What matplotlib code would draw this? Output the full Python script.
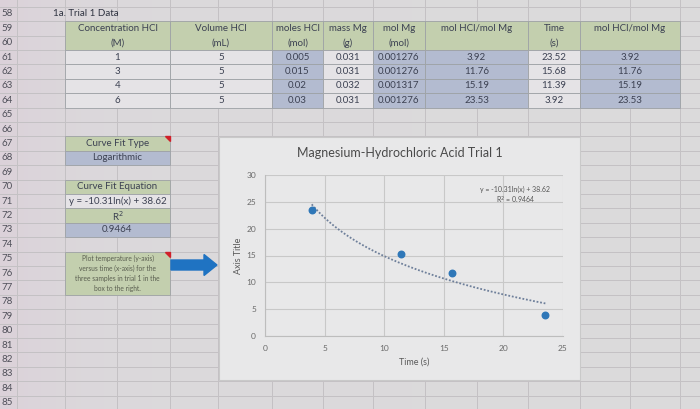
import numpy as np
import matplotlib
matplotlib.use('Agg')
import matplotlib.pyplot as plt
from matplotlib.patches import Rectangle, Polygon, FancyArrow

plt.rcParams['font.family'] = ['Lato', 'DejaVu Sans']

# ----- spreadsheet data (trial 1) -----
conc_hcl = ['1', '3', '4', '6']
volume_hcl = ['5', '5', '5', '5']
moles_hcl = ['0.005', '0.015', '0.02', '0.03']
mass_mg = ['0.031', '0.031', '0.032', '0.031']
mol_mg = ['0.001276', '0.001276', '0.001317', '0.001276']
ratio_str = ['3.92', '11.76', '15.19', '23.53']
time_str = ['23.52', '15.68', '11.39', '3.92']

# values plotted in the chart
time_s = [23.52, 15.68, 11.39, 3.92]
ratio = [3.92, 11.76, 15.19, 23.53]

fit_type = 'Logarithmic'
fit_eq = 'y = -10.31ln(x) + 38.62'
r2_val = '0.9464'
note_lines = ['Plot temperature (y-axis)', 'versus time (x-axis) for the',
              'three samples in trial 1 in the', 'box to the right.']

rows = list(range(57, 87))

# ----- colours -----
GRIDC = '#c4c1c4'
GREEN = '#c3cfae'
BLUE = '#b3bbd0'
WHITE = '#e5e3e6'
TXT = '#3c4152'
BORDER = '#9ea2a6'

W, H = 700, 409
ROW0, ROWH = 14.0, 14.4
COLS = [17, 65, 117, 170, 218, 272, 323, 373, 425, 477, 528, 580, 630, 680, 735]


def row_top(r):
    return ROW0 + (r - 58) * ROWH - ROWH / 2


def row_mid(r):
    return ROW0 + (r - 58) * ROWH


fig = plt.figure(figsize=(7, 4.09), dpi=100)
bg = fig.add_axes([0, 0, 1, 1])
bg.set_xlim(0, W)
bg.set_ylim(H, 0)
bg.axis('off')

# background with a slight pink cast from the photo on the left
xx = np.arange(W)
img = np.ones((H, W, 3))
img[:, :, 0] = 0.862
img[:, :, 1] = 0.855 - 0.035 * np.exp(-xx / 70)
img[:, :, 2] = 0.862 - 0.01 * np.exp(-xx / 70)
bg.imshow(img, extent=(0, W, H, 0), aspect='auto', zorder=0)

# sheet gridlines
for r in rows:
    bg.axhline(row_top(r), color=GRIDC, lw=0.7, zorder=1)
for c in COLS:
    bg.axvline(c, color=GRIDC, lw=0.7, zorder=1)
for r in rows[1:-1]:
    bg.text(1, row_mid(r), str(r), fontsize=7, color='#50505a',
            va='center', ha='left', zorder=2)

bg.text(53, row_mid(58), '1a. Trial 1 Data', fontsize=7, color='#2e3240',
        va='center', ha='left', zorder=2)


def cell(x0, x1, r0, r1, color, zorder=3):
    y0 = row_top(r0)
    y1 = row_top(r1 + 1)
    bg.add_patch(Rectangle((x0, y0), x1 - x0, y1 - y0, facecolor=color,
                           edgecolor=BORDER, lw=0.6, zorder=zorder))
    return (x0 + x1) / 2, (y0 + y1) / 2


# ----- data table -----
table_cols = [
    (65, 170, ['Concentration HCl', '(M)'], conc_hcl, WHITE),
    (170, 272, ['Volume HCl', '(mL)'], volume_hcl, WHITE),
    (272, 323, ['moles HCl', '(mol)'], moles_hcl, BLUE),
    (323, 373, ['mass Mg', '(g)'], mass_mg, WHITE),
    (373, 425, ['mol Mg', '(mol)'], mol_mg, BLUE),
    (425, 528, ['mol HCl/mol Mg'], ratio_str, BLUE),
    (528, 580, ['Time', '(s)'], time_str, WHITE),
    (580, 680, ['mol HCl/mol Mg'], ratio_str, BLUE),
]
for x0, x1, head, vals, col in table_cols:
    cx, _ = cell(x0, x1, 59, 60, GREEN)
    for i, h in enumerate(head):
        bg.text(cx, row_mid(59 + i), h, fontsize=7, color=TXT,
                ha='center', va='center', zorder=4)
    for i, v in enumerate(vals):
        cx, cy = cell(x0, x1, 61 + i, 61 + i, col)
        bg.text(cx, cy, v, fontsize=7, color=TXT, ha='center',
                va='center', zorder=4)

# ----- curve fit boxes -----
boxes = [(67, GREEN, 'Curve Fit Type'), (68, BLUE, fit_type),
         (70, GREEN, 'Curve Fit Equation'), (71, WHITE, fit_eq),
         (72, GREEN, r'R$^{2}$'), (73, BLUE, r2_val)]
for r, col, label in boxes:
    cx, cy = cell(65, 170, r, r, col)
    bg.text(cx, cy, label, fontsize=7, color=TXT, ha='center',
            va='center', zorder=4)

cx, cy = cell(65, 170, 75, 77, GREEN)
bg.text(cx, cy, '\n'.join(note_lines), fontsize=4.8, color='#5a5e50',
        ha='center', va='center', linespacing=1.5, zorder=4)

# red comment markers
for r in (67, 75):
    yt = row_top(r)
    bg.add_patch(Polygon([[165, yt], [170, yt], [170, yt + 5]],
                         closed=True, color='#d0202a', zorder=5))

# blue arrow
bg.add_patch(FancyArrow(171, 265, 33, 0, width=10, head_width=21,
                        head_length=13, color='#1f73c2', zorder=5))

# ----- chart -----
bg.add_patch(Rectangle((219, 137), 361, 243, facecolor='#e8e8e9',
                       edgecolor='#c9c9c9', lw=0.8, zorder=6))
bg.text(400, 153, 'Magnesium-Hydrochloric Acid Trial 1', fontsize=9,
        color='#4a4a4a', ha='center', va='center', zorder=7)

left, right, top, bottom = 265, 563, 175, 336
ax = fig.add_axes([left / W, 1 - bottom / H, (right - left) / W,
                   (bottom - top) / H])
ax.set_facecolor('none')
ax.set_zorder(8)

ax.scatter(time_s, ratio, s=22, color='#2f77b8', zorder=4)

# logarithmic trendline fitted to the points
slope, intercept = np.polyfit(np.log(time_s), ratio, 1)
xs = np.linspace(min(time_s), max(time_s), 200)
ax.plot(xs, slope * np.log(xs) + intercept, color='#6e7f9a',
        lw=1.3, linestyle=(0, (1, 1)), zorder=3)

ax.set_xlim(0, 25)
ax.set_ylim(0, 30)
ax.set_xticks(range(0, 26, 5))
ax.set_yticks(range(0, 31, 5))
ax.grid(True, color='#c8c8c8', lw=0.8)
ax.set_axisbelow(True)
for s in ('top', 'right'):
    ax.spines[s].set_visible(False)
for s in ('left', 'bottom'):
    ax.spines[s].set_color('#bdbdbd')
    ax.spines[s].set_linewidth(0.8)
ax.tick_params(length=0, labelsize=6, labelcolor='#6a6a6a', pad=6.5)
ax.set_xlabel('Time (s)', fontsize=6.5, color='#5a5a5a', labelpad=4)
ax.set_ylabel('Axis Title', fontsize=6.5, color='#5a5a5a', labelpad=2)

ax.text(0.84, 0.87, fit_eq + '\n' + r'R$^{2}$ = ' + r2_val,
        transform=ax.transAxes, fontsize=5, color='#555555',
        ha='center', va='center', linespacing=1.3)

fig.savefig('out.png', dpi=100)
